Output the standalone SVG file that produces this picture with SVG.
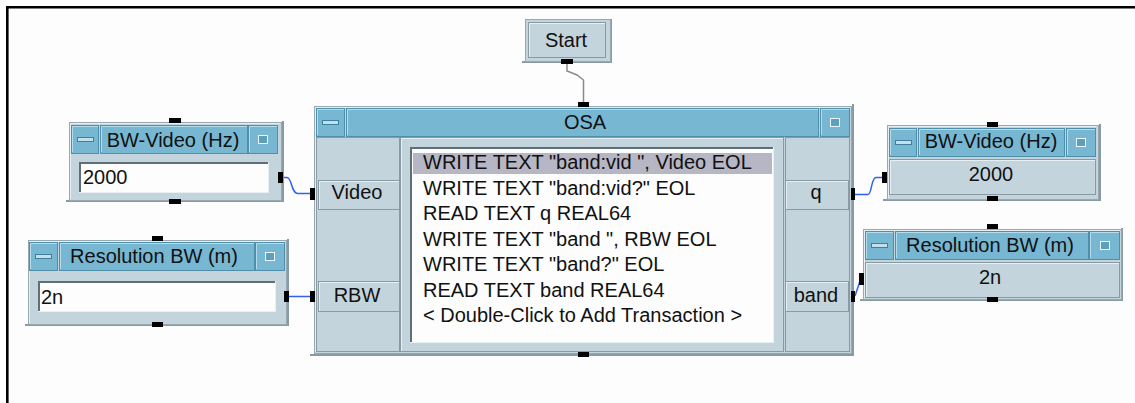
<svg xmlns="http://www.w3.org/2000/svg" width="1135" height="403" viewBox="0 0 1135 403">
<style>
.bg{fill:#fdfdfd}
.frame{fill:none;stroke:#000;stroke-width:2.6}
.shadow{fill:none;stroke:#8a9aa2;stroke-width:2}
.body{fill:#c4d4dc;stroke:#98a8b0;stroke-width:1}
.hl{fill:none;stroke:#e6eff3;stroke-width:1}
.tb{fill:#77b7d1;stroke:#4f8fa9;stroke-width:1}
.tbhl{fill:none;stroke:#b4dded;stroke-width:1}
.cell{fill:#c4d4dc;stroke:#8a9aa2;stroke-width:1}
.mi{fill:#bfe0ec;stroke:#3f7f99;stroke-width:1}
.bi{fill:#5f9fb9;stroke:#eaf6fb;stroke-width:1}
.field{fill:#fdfdfd;stroke:#e8f0f4;stroke-width:1}
.sunk{fill:none;stroke:#5f6f77;stroke-width:2}
.pin{fill:#000}
.wire{fill:none;stroke:#2f62f0;stroke-width:1.5}
.seq{fill:none;stroke:#8a8a8a;stroke-width:1.5}
.t{font-family:"Liberation Sans",Arial,sans-serif;font-size:20px;fill:#111}
.c{text-anchor:middle}
</style>
<rect class="bg" x="0" y="0" width="1135" height="403"/>
<path class="frame" d="M7.3,403 V7.3 H1135"/>

<g id="connectors">
  <path class="wire" d="M283,177.5 H287 C292,177.5 291,193.5 298,193.5 H311"/>
  <path class="wire" d="M289,296.5 H311"/>
  <path class="wire" d="M855,194.5 H868 C872,194.5 871,177.5 876,177.5 H882"/>
  <path class="wire" d="M855,296 L860,281"/>
  <path class="seq" d="M567,63 V71 L577,75 L583.5,80 V102"/>
</g>

<g id="start">
  <path class="shadow" d="M522,62 H611 V19"/>
  <rect class="body" x="525.5" y="19.5" width="85" height="42"/>
  <rect class="cell" x="528.5" y="22.5" width="77" height="35"/>
  <path class="hl" d="M529.5,57 V23.5 H605"/>
  <text class="t c" x="566" y="47" font-size="19">Start</text>
  <rect class="pin" x="561" y="59" width="12" height="5"/>
</g>

<g id="bw-video-in">
  <path class="shadow" d="M66,201 H283 V121"/>
  <rect class="body" x="69.5" y="122.5" width="212" height="78"/>
  <path class="hl" d="M70.5,199 V123.5 H280"/>
  <rect class="tb" x="71.5" y="125.5" width="27" height="28"/>
  <rect class="tb" x="100.5" y="125.5" width="147" height="28"/>
  <rect class="tb" x="248.5" y="125.5" width="29" height="28"/>
  <path class="tbhl" d="M72.5,152 V126.5 H98 M101.5,152 V126.5 H247 M249.5,152 V126.5 H277"/>
  <rect class="mi" x="77.5" y="137.5" width="16" height="4"/>
  <rect class="bi" x="258.5" y="135.5" width="9" height="8"/>
  <text class="t c" x="173" y="147">BW-Video (Hz)</text>
  <rect class="field" x="79.5" y="162.5" width="189" height="30"/>
  <path class="sunk" d="M80,192 V163 H268"/>
  <text class="t" x="83" y="184">2000</text>
  <rect class="pin" x="169" y="118" width="12" height="5"/>
  <rect class="pin" x="169" y="199" width="12" height="5"/>
  <rect class="pin" x="278" y="172" width="5" height="11"/>
</g>

<g id="resolution-bw-in">
  <path class="shadow" d="M25,325 H288 V239"/>
  <rect class="body" x="28.5" y="240.5" width="258" height="84"/>
  <path class="hl" d="M29.5,323 V241.5 H285"/>
  <rect class="tb" x="29.5" y="242.5" width="28" height="28"/>
  <rect class="tb" x="59.5" y="242.5" width="195" height="28"/>
  <rect class="tb" x="255.5" y="242.5" width="29" height="28"/>
  <path class="tbhl" d="M30.5,269 V243.5 H57 M60.5,269 V243.5 H254 M256.5,269 V243.5 H284"/>
  <rect class="mi" x="35.5" y="254.5" width="16" height="4"/>
  <rect class="bi" x="265.5" y="252.5" width="9" height="8"/>
  <text class="t c" x="154" y="263">Resolution BW (m)</text>
  <rect class="field" x="38.5" y="281.5" width="237" height="30"/>
  <path class="sunk" d="M39,311 V282 H275"/>
  <text class="t" x="41" y="304">2n</text>
  <rect class="pin" x="152" y="236" width="11" height="5"/>
  <rect class="pin" x="152" y="322" width="11" height="5"/>
  <rect class="pin" x="284" y="291" width="5" height="11"/>
</g>

<g id="osa">
  <path class="shadow" d="M310,355 H853 V104"/>
  <rect class="body" x="314.5" y="106.5" width="537" height="247"/>
  <path class="hl" d="M315.5,352 V107.5 H850"/>
  <rect class="tb" x="316.5" y="108.5" width="28" height="28"/>
  <rect class="tb" x="346.5" y="108.5" width="472" height="28"/>
  <rect class="tb" x="820.5" y="108.5" width="29" height="28"/>
  <path class="tbhl" d="M317.5,135 V109.5 H344 M347.5,135 V109.5 H818 M821.5,135 V109.5 H849"/>
  <rect class="mi" x="322.5" y="120.5" width="16" height="4"/>
  <rect class="bi" x="830.5" y="118.5" width="9" height="8"/>
  <text class="t c" x="585" y="129">OSA</text>
  <rect class="cell" x="316.5" y="137.5" width="83" height="214"/>
  <rect class="cell" x="400.5" y="137.5" width="383" height="214"/>
  <path class="hl" d="M401.5,351 V138.5 H783"/>
  <rect class="cell" x="785.5" y="137.5" width="64" height="214"/>
  <rect class="field" x="410.5" y="147.5" width="363" height="195"/>
  <path class="sunk" d="M411,342 V148 H773"/>
  <rect x="413" y="153" width="359" height="21" fill="#b6b6c4"/>
  <text class="t" x="423" y="169">WRITE TEXT "band:vid ", Video EOL</text>
  <text class="t" x="423" y="194.5">WRITE TEXT "band:vid?" EOL</text>
  <text class="t" x="423" y="220">READ TEXT q REAL64</text>
  <text class="t" x="423" y="245.5">WRITE TEXT "band ", RBW EOL</text>
  <text class="t" x="423" y="271">WRITE TEXT "band?" EOL</text>
  <text class="t" x="423" y="296.5">READ TEXT band REAL64</text>
  <text class="t" x="423" y="322">&lt; Double-Click to Add Transaction &gt;</text>
  <rect class="cell" x="318.5" y="180.5" width="81" height="29"/>
  <path class="hl" d="M319.5,209 V181.5 H399"/>
  <text class="t c" x="357" y="199">Video</text>
  <rect class="cell" x="318.5" y="281.5" width="81" height="30"/>
  <path class="hl" d="M319.5,311 V282.5 H399"/>
  <text class="t c" x="357" y="302">RBW</text>
  <rect class="cell" x="785.5" y="180.5" width="63" height="29"/>
  <path class="hl" d="M786.5,209 V181.5 H848"/>
  <text class="t c" x="816" y="199">q</text>
  <rect class="cell" x="785.5" y="281.5" width="63" height="30"/>
  <path class="hl" d="M786.5,311 V282.5 H848"/>
  <text class="t c" x="816" y="302">band</text>
  <rect class="pin" x="578" y="102" width="11" height="5"/>
  <rect class="pin" x="578" y="352" width="11" height="5"/>
  <rect class="pin" x="310" y="188" width="5" height="12"/>
  <rect class="pin" x="310" y="291" width="5" height="11"/>
  <rect class="pin" x="851" y="188" width="4" height="12"/>
  <rect class="pin" x="851" y="291" width="4" height="11"/>
</g>

<g id="bw-video-out">
  <path class="shadow" d="M883,200 H1100 V124"/>
  <rect class="body" x="887.5" y="125.5" width="211" height="74"/>
  <path class="hl" d="M888.5,198 V126.5 H1097"/>
  <rect class="tb" x="889.5" y="128.5" width="27" height="28"/>
  <rect class="tb" x="918.5" y="128.5" width="146" height="28"/>
  <rect class="tb" x="1066.5" y="128.5" width="29" height="28"/>
  <path class="tbhl" d="M890.5,155 V129.5 H916 M919.5,155 V129.5 H1064 M1067.5,155 V129.5 H1095"/>
  <rect class="mi" x="895.5" y="140.5" width="16" height="4"/>
  <rect class="bi" x="1076.5" y="138.5" width="9" height="8"/>
  <text class="t c" x="991" y="148">BW-Video (Hz)</text>
  <rect class="cell" x="889.5" y="159.5" width="206" height="35"/>
  <path class="hl" d="M890.5,194 V160.5 H1095"/>
  <text class="t c" x="991" y="181">2000</text>
  <rect class="pin" x="987" y="122" width="11" height="5"/>
  <rect class="pin" x="987" y="196" width="11" height="5"/>
  <rect class="pin" x="882" y="172" width="5" height="11"/>
</g>

<g id="resolution-bw-out">
  <path class="shadow" d="M860,300 H1122 V228"/>
  <rect class="body" x="863.5" y="229.5" width="258" height="70"/>
  <path class="hl" d="M864.5,298 V230.5 H1120"/>
  <rect class="tb" x="865.5" y="231.5" width="28" height="28"/>
  <rect class="tb" x="895.5" y="231.5" width="193" height="28"/>
  <rect class="tb" x="1089.5" y="231.5" width="30" height="28"/>
  <path class="tbhl" d="M866.5,258 V232.5 H893 M896.5,258 V232.5 H1088 M1090.5,258 V232.5 H1119"/>
  <rect class="mi" x="871.5" y="243.5" width="16" height="4"/>
  <rect class="bi" x="1100.5" y="241.5" width="9" height="8"/>
  <text class="t c" x="990" y="252">Resolution BW (m)</text>
  <rect class="cell" x="865.5" y="262.5" width="254" height="35"/>
  <path class="hl" d="M866.5,297 V263.5 H1119"/>
  <text class="t c" x="990" y="284">2n</text>
  <rect class="pin" x="987" y="224" width="11" height="5"/>
  <rect class="pin" x="987" y="297" width="11" height="5"/>
  <rect class="pin" x="859" y="273" width="5" height="12"/>
</g>
</svg>
